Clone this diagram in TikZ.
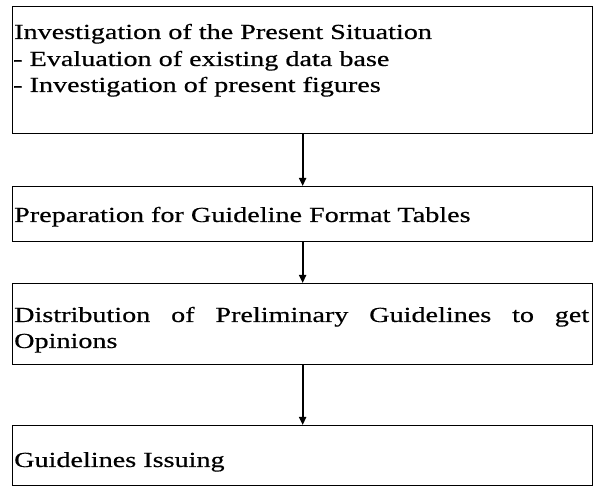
\documentclass[tikz,border=0pt]{standalone}
\usepackage{fontspec}
\setmainfont{Liberation Serif}[FakeStretch=1.31,FakeBold=0.5]
\usetikzlibrary{arrows.meta}
\begin{document}
\begin{tikzpicture}[x=1pt,y=1pt,
  stepbox/.style={draw, line width=1.3pt, inner sep=0pt, minimum width=580pt, anchor=north west},
  txt/.style={anchor=base west, inner sep=0pt, font=\fontsize{21.5}{25}\selectfont},
  flow/.style={line width=1.8pt, -{Triangle[length=8pt,width=7pt]}}]
\useasboundingbox (0,0) rectangle (595,-486);
\node[stepbox, minimum height=127pt] (b1) at (12,-6) {};
\node[stepbox, minimum height=55pt] (b2) at (12,-186) {};
\node[stepbox, minimum height=81pt] (b3) at (12,-283) {};
\node[stepbox, minimum height=60pt] (b4) at (12,-425) {};
\node[txt] (t1a) at (14,-39) {Investigation of the Present Situation};
\node[txt] (t1b) at (13,-66) {- Evaluation of existing data base};
\node[txt] (t1c) at (13,-92) {- Investigation of present figures};
\node[txt] (t2) at (14,-222) {Preparation for Guideline Format Tables};
\node[txt] (t3a) at (14,-322) {\hbox to 575pt{Distribution\hfill of\hfill Preliminary\hfill Guidelines\hfill to\hfill get}};
\node[txt] (t3b) at (14,-348) {Opinions};
\node[txt] (t4) at (14,-467) {Guidelines Issuing};
\draw[flow] (b1.south) -- (b2.north);
\draw[flow] (b2.south) -- (b3.north);
\draw[flow] (b3.south) -- (b4.north);
\end{tikzpicture}
\end{document}
